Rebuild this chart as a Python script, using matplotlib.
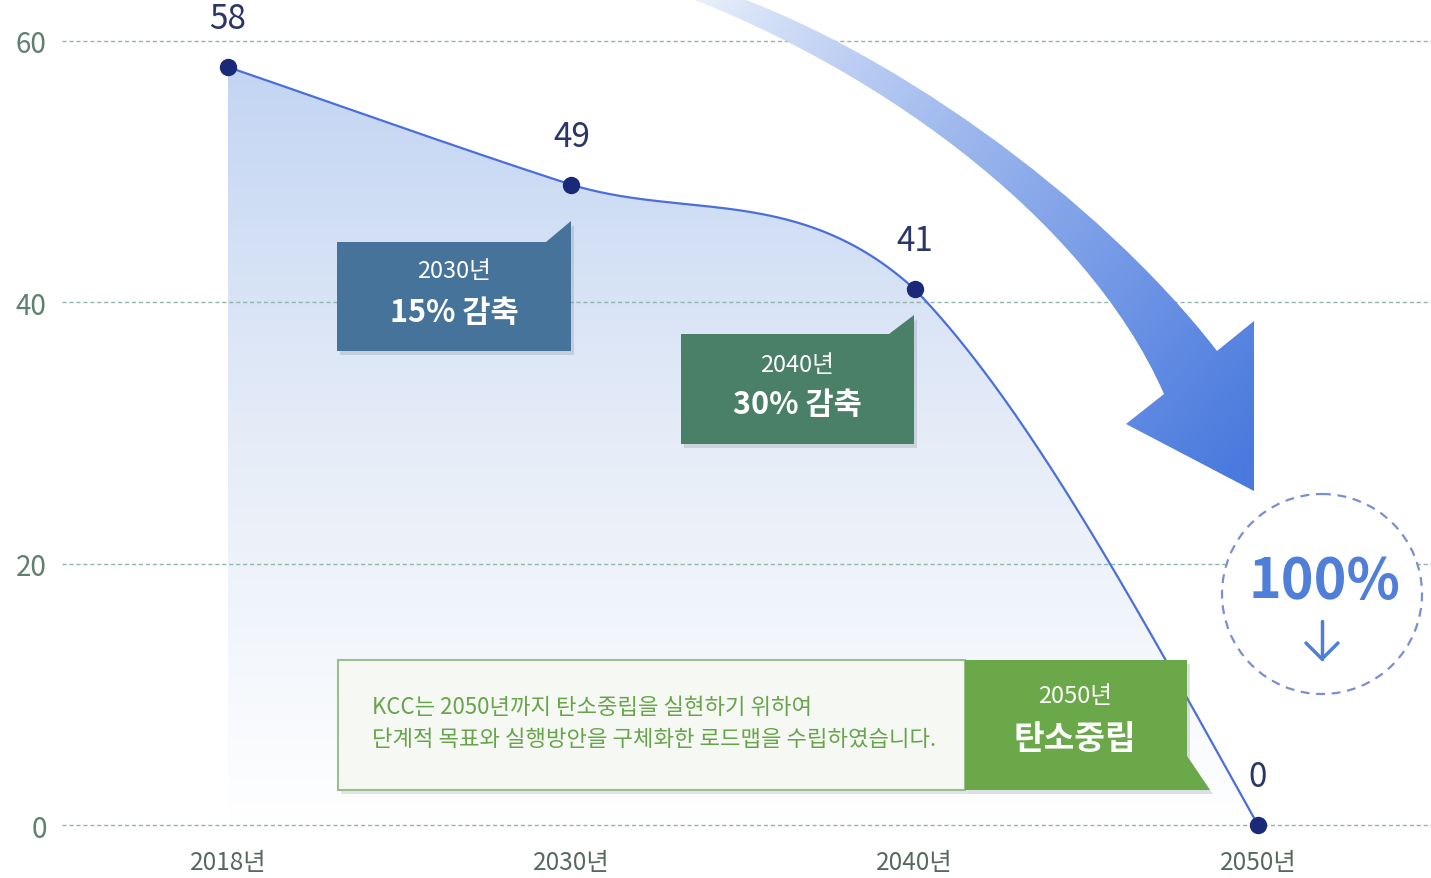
import numpy as np
import matplotlib
matplotlib.use("Agg")
import matplotlib.pyplot as plt
from matplotlib.path import Path
from matplotlib.patches import PathPatch, Polygon, Rectangle, Circle
from matplotlib.colors import LinearSegmentedColormap

plt.rcParams['font.family'] = ['Noto Sans CJK KR', 'DejaVu Sans']

# ---------------- data ----------------
years = ["2018년", "2030년", "2040년", "2050년"]
values = [58, 49, 41, 0]
yticks = [0, 20, 40, 60]
# curve tangents (style): (out slope, in slope) for each segment
seg_slopes = [(-9.0, -8.5), (-8.0, -24.0), (-27.0, -47.0)]

W, H = 1431, 879
fig = plt.figure(figsize=(W / 100, H / 100), dpi=100)
fig.patch.set_facecolor("white")

ax = fig.add_axes([62 / W, 0, (W - 62) / W, 1])
ax.set_facecolor("none")

x = np.arange(len(values), dtype=float)
y = np.array(values, dtype=float)

# smooth Bezier curve through the data points
curve_x, curve_y = [], []
t = np.linspace(0, 1, 120)
for i in range(len(x) - 1):
    dx = x[i + 1] - x[i]
    h = dx / 3
    m0, m1 = seg_slopes[i]
    P0 = np.array([x[i], y[i]])
    P1 = np.array([x[i] + h, y[i] + m0 * h])
    P2 = np.array([x[i + 1] - h, y[i + 1] - m1 * h])
    P3 = np.array([x[i + 1], y[i + 1]])
    B = ((1 - t) ** 3)[:, None] * P0 + (3 * (1 - t) ** 2 * t)[:, None] * P1 \
        + (3 * (1 - t) * t ** 2)[:, None] * P2 + (t ** 3)[:, None] * P3
    curve_x.extend(B[:, 0]); curve_y.extend(B[:, 1])
curve_x = np.array(curve_x); curve_y = np.array(curve_y)

# gradient fill under curve
fill_cmap = LinearSegmentedColormap.from_list("f", ["#ffffff", "#e6edf8", "#c3d5f3"])
grad = np.linspace(0, 1, 256)[:, None]
im = ax.imshow(grad, extent=[x[0], x[-1], 0, max(values)], origin="lower",
               aspect="auto", cmap=fill_cmap, zorder=1)
poly = Polygon(np.column_stack([np.r_[curve_x, x[-1], x[0]],
                                np.r_[curve_y, 0, 0]]), closed=True,
               facecolor="none", edgecolor="none")
ax.add_patch(poly)
im.set_clip_path(poly)

ax.plot(curve_x, curve_y, color="#4a6fdb", lw=1.6, zorder=3)
ax.plot(x, y, "o", color="#1b2a78", ms=11.5, zorder=4)

for xi, yi in zip(x, y):
    ax.annotate(f"{yi:g}", (xi, yi), xytext=(0, 35), textcoords="offset points",
                ha="center", va="center", fontsize=24, color="#2a3568", zorder=5)

ax.set_xlim(-0.4835, 3.504)
ax.set_ylim(-4.055, 63.21)
ax.set_yticks(yticks)
ax.set_yticklabels([str(v) for v in yticks], fontsize=20, color="#5e8070")
ax.tick_params(axis="y", length=0, pad=11)
ax.set_xticks([])
ax.set_axisbelow(False)
ax.grid(axis="y", color="#93b5ab", lw=1.0, linestyle=(0, (3, 2)), zorder=2)
for s in ax.spines.values():
    s.set_visible(False)

for xi, lab in zip(x, years):
    ax.text(xi, -2.85, lab, ha="center", va="center", fontsize=17.5,
            color="#56695f", zorder=5)

# ---------------- decorations overlay (pixel coords) ----------------
ov = fig.add_axes([0, 0, 1, 1], zorder=5)
ov.set_xlim(0, W); ov.set_ylim(H, 0)
ov.axis("off")
ov.set_facecolor("none")

# big curved gradient arrow
verts = [(700, -15), (880, 40), (1100, 200), (1217, 352),
         (1254, 322), (1254, 492), (1126, 425), (1164, 395),
         (1085, 215), (865, 60), (660, -12), (700, -15)]
codes = [Path.MOVETO, Path.CURVE4, Path.CURVE4, Path.CURVE4,
         Path.LINETO, Path.LINETO, Path.LINETO, Path.LINETO,
         Path.CURVE4, Path.CURVE4, Path.CURVE4, Path.CLOSEPOLY]
arrow_patch = PathPatch(Path(verts, codes), facecolor="none", edgecolor="none")
ov.add_patch(arrow_patch)
gx, gy = np.meshgrid(np.linspace(650, 1260, 300), np.linspace(-20, 500, 260))
d = np.array([564.0, 450.0])
tt = np.clip(((gx - 690) * d[0] + gy * d[1]) / (d @ d), 0, 1) ** 0.8
c0 = np.array([0xee, 0xf3, 0xfc]) / 255
c1 = np.array([0x4a, 0x7a, 0xde]) / 255
rgb = c0[None, None, :] * (1 - tt[..., None]) + c1[None, None, :] * tt[..., None]
aim = ov.imshow(rgb, extent=[650, 1260, 500, -20], aspect="auto", zorder=2,
                interpolation="bilinear")
aim.set_clip_path(arrow_patch)
ov.set_xlim(0, W); ov.set_ylim(H, 0)

# dashed circle with 100% and down arrow
ov.add_patch(Circle((1322, 595), 100, facecolor="white", edgecolor="#7b8fd0",
                    lw=1.6, linestyle=(0, (4, 3)), zorder=3))
ov.text(1324, 582, "100%", ha="center", va="center", fontsize=40,
        fontweight="bold", color="#4f7fd9", zorder=4)
ov.plot([1322, 1322], [622, 660], color="#4f7fd9", lw=2.5, zorder=4,
        solid_capstyle="round")
ov.plot([1306, 1322, 1338], [644, 660, 644], color="#4f7fd9", lw=2.5, zorder=4,
        solid_capstyle="round", solid_joinstyle="round")


def callout(pts, color, zorder=3):
    sh = [(px + 3, py + 4) for px, py in pts]
    ov.add_patch(Polygon(sh, closed=True, facecolor="#7a8590", alpha=0.25,
                         edgecolor="none", zorder=zorder - 0.5))
    ov.add_patch(Polygon(pts, closed=True, facecolor=color, edgecolor="none",
                         zorder=zorder))


# 2030 box
callout([(337, 243), (546, 243), (571, 222), (571, 352), (337, 352)], "#46739a")
ov.text(454, 272, "2030년", ha="center", va="center", fontsize=17,
        color="white", zorder=4)
ov.text(454, 313, "15% 감축", ha="center", va="center", fontsize=22,
        fontweight="bold", color="white", zorder=4)

# 2040 box
callout([(681, 335), (889, 335), (914, 316), (914, 445), (681, 445)], "#4b8068")
ov.text(797, 366, "2040년", ha="center", va="center", fontsize=17,
        color="white", zorder=4)
ov.text(797, 405, "30% 감축", ha="center", va="center", fontsize=22,
        fontweight="bold", color="white", zorder=4)

# 2050 message box
ov.add_patch(Rectangle((341, 665), 627, 130, facecolor="#7a8590", alpha=0.2,
                       edgecolor="none", zorder=2.5))
ov.add_patch(Rectangle((338, 661), 627, 130, facecolor="#f6f8f4",
                       edgecolor="#9cbd8c", lw=1.5, zorder=3))
callout([(965, 661), (1187, 661), (1187, 757), (1210, 791), (965, 791)], "#6aa84a")
ov.text(372, 708, "KCC는 2050년까지 탄소중립을 실현하기 위하여", ha="left",
        va="center", fontsize=16, color="#68a44b", zorder=4)
ov.text(372, 740, "단계적 목표와 실행방안을 구체화한 로드맵을 수립하였습니다.",
        ha="left", va="center", fontsize=16, color="#68a44b", zorder=4)
ov.text(1075, 697, "2050년", ha="center", va="center", fontsize=17,
        color="white", zorder=4)
ov.text(1075, 740, "탄소중립", ha="center", va="center", fontsize=24,
        fontweight="bold", color="white", zorder=4)

fig.savefig("out.png", dpi=100, facecolor="white")
